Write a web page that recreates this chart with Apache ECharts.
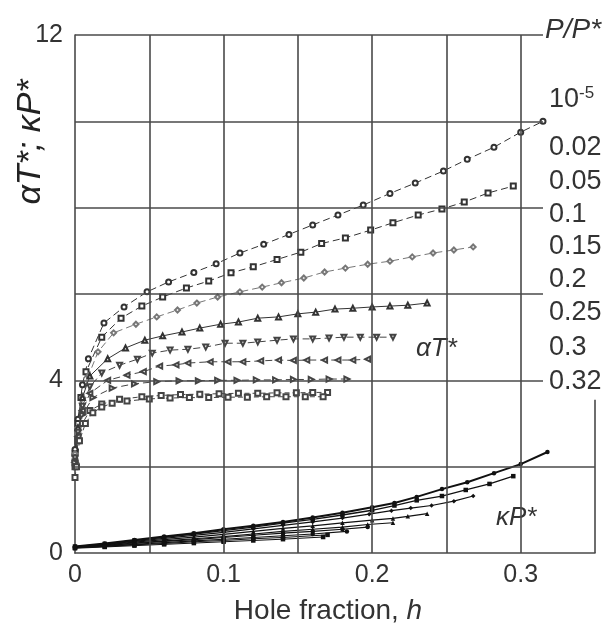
<!DOCTYPE html>
<html><head><meta charset="utf-8">
<script src="https://cdn.jsdelivr.net/npm/echarts@6/dist/echarts.min.js"></script>
<style>html,body{margin:0;padding:0;background:#fff}#c{width:610px;height:631px}</style>
</head><body><div id="c"></div>
<script>
// ---- data ----
const pLabels = ['10^-5','0.02','0.05','0.1','0.15','0.2','0.25','0.3','0.32'];
const xTickLabels = {0:'0',0.1:'0.1',0.2:'0.2',0.3:'0.3'};
const yTickLabels = [0,4,12];
const vGrid = [0.05,0.1,0.15,0.2,0.25,0.3];
const hGrid = [4,6,8,10,12];

// alpha T* curves
const aT_1e5 = [[0,2.4],[0.002,3.1],[0.005,3.9],[0.009,4.5],[0.0195,5.33],[0.033,5.7],[0.0485,6.05],[0.063,6.28],[0.080,6.5],[0.095,6.7],[0.111,6.95],[0.127,7.15],[0.144,7.38],[0.16,7.6],[0.177,7.83],[0.194,8.06],[0.212,8.33],[0.229,8.57],[0.248,8.85],[0.264,9.12],[0.282,9.4],[0.300,9.75],[0.315,10.0]];
const aT_002 = [[0,2.3],[0.002,3.0],[0.004,3.6],[0.0074,4.2],[0.018,5.0],[0.031,5.44],[0.045,5.72],[0.059,5.93],[0.075,6.14],[0.090,6.3],[0.105,6.49],[0.120,6.63],[0.136,6.8],[0.152,6.97],[0.166,7.17],[0.182,7.3],[0.199,7.48],[0.214,7.65],[0.231,7.83],[0.247,7.97],[0.262,8.13],[0.278,8.34],[0.295,8.5]];
const aT_005 = [[0,2.3],[0.002,2.9],[0.005,3.6],[0.009,4.1],[0.0155,4.66],[0.026,5.1],[0.041,5.3],[0.055,5.47],[0.069,5.63],[0.082,5.79],[0.096,5.93],[0.111,6.05],[0.126,6.16],[0.139,6.26],[0.154,6.37],[0.168,6.51],[0.182,6.6],[0.197,6.69],[0.212,6.76],[0.227,6.86],[0.241,6.95],[0.255,7.02],[0.268,7.09]];
const aT_01 = [[0,2.2],[0.002,2.9],[0.005,3.6],[0.01,4.1],[0.022,4.5],[0.034,4.75],[0.047,4.93],[0.059,5.03],[0.072,5.12],[0.084,5.21],[0.098,5.3],[0.110,5.35],[0.123,5.44],[0.137,5.47],[0.150,5.54],[0.162,5.58],[0.175,5.65],[0.187,5.67],[0.2,5.7],[0.212,5.72],[0.224,5.74],[0.237,5.79]];
const aT_015 = [[0,2.2],[0.002,2.8],[0.005,3.4],[0.01,3.85],[0.018,4.17],[0.030,4.35],[0.042,4.49],[0.052,4.63],[0.064,4.7],[0.076,4.72],[0.088,4.77],[0.101,4.86],[0.113,4.86],[0.123,4.89],[0.136,4.93],[0.147,4.96],[0.160,4.96],[0.171,4.98],[0.181,5.0],[0.192,5.0],[0.203,5.0],[0.214,5.0]];
const aT_02 = [[0,2.1],[0.002,2.7],[0.005,3.3],[0.01,3.7],[0.022,4.0],[0.035,4.12],[0.046,4.2],[0.057,4.33],[0.068,4.36],[0.076,4.4],[0.091,4.43],[0.103,4.43],[0.113,4.43],[0.125,4.45],[0.137,4.47],[0.147,4.46],[0.156,4.47],[0.168,4.47],[0.177,4.47],[0.187,4.47],[0.197,4.49]];
const aT_025 = [[0,2.1],[0.002,2.6],[0.005,3.2],[0.012,3.6],[0.025,3.82],[0.04,3.92],[0.055,3.97],[0.07,3.99],[0.083,3.99],[0.096,4.0],[0.109,4.0],[0.122,4.01],[0.135,4.01],[0.147,4.02],[0.159,4.02],[0.171,4.03],[0.183,4.03]];
const aT_03 = [[0,2.0],[0.002,2.6],[0.005,3.0],[0.01,3.3],[0.018,3.45],[0.03,3.56],[0.045,3.62],[0.058,3.65],[0.071,3.67],[0.084,3.68],[0.097,3.69],[0.110,3.7],[0.123,3.7],[0.136,3.71],[0.149,3.71],[0.160,3.72],[0.170,3.72]];
const aT_032 = [[0,1.75],[0.001,2.0],[0.003,2.6],[0.007,3.0],[0.012,3.25],[0.018,3.38],[0.025,3.47],[0.035,3.52],[0.050,3.57],[0.064,3.59],[0.077,3.6],[0.090,3.6],[0.103,3.61],[0.116,3.61],[0.129,3.62],[0.142,3.62],[0.155,3.62],[0.167,3.62]];

// kappa P* curves
const kP_1e5 = [[0,0.15],[0.02,0.22],[0.04,0.3],[0.06,0.38],[0.08,0.46],[0.1,0.55],[0.12,0.63],[0.14,0.72],[0.16,0.82],[0.18,0.93],[0.2,1.06],[0.215,1.16],[0.23,1.3],[0.247,1.48],[0.264,1.64],[0.282,1.85],[0.3,2.06],[0.318,2.34]];
const kP_002 = [[0,0.15],[0.02,0.21],[0.04,0.29],[0.06,0.36],[0.08,0.44],[0.1,0.52],[0.12,0.6],[0.14,0.69],[0.16,0.78],[0.18,0.88],[0.2,0.99],[0.215,1.1],[0.23,1.22],[0.247,1.32],[0.263,1.46],[0.279,1.6],[0.295,1.78]];
const kP_005 = [[0,0.14],[0.02,0.2],[0.04,0.27],[0.06,0.34],[0.08,0.41],[0.1,0.48],[0.12,0.56],[0.14,0.64],[0.16,0.72],[0.18,0.81],[0.198,0.9],[0.213,0.98],[0.226,1.04],[0.24,1.1],[0.255,1.2],[0.268,1.32]];
const kP_01 = [[0,0.14],[0.02,0.19],[0.04,0.25],[0.06,0.31],[0.08,0.37],[0.1,0.43],[0.12,0.5],[0.14,0.57],[0.16,0.63],[0.18,0.7],[0.2,0.76],[0.214,0.8],[0.224,0.85],[0.237,0.91]];
const kP_015 = [[0,0.13],[0.02,0.18],[0.04,0.23],[0.06,0.28],[0.08,0.33],[0.1,0.38],[0.12,0.44],[0.14,0.5],[0.16,0.55],[0.18,0.6],[0.197,0.66],[0.214,0.7]];
const kP_02 = [[0,0.13],[0.02,0.17],[0.04,0.22],[0.06,0.27],[0.08,0.31],[0.1,0.36],[0.12,0.41],[0.14,0.46],[0.16,0.5],[0.18,0.55],[0.197,0.6]];
const kP_025 = [[0,0.12],[0.02,0.16],[0.04,0.2],[0.06,0.24],[0.08,0.28],[0.1,0.32],[0.12,0.36],[0.14,0.4],[0.16,0.44],[0.183,0.5]];
const kP_03 = [[0,0.12],[0.02,0.15],[0.04,0.19],[0.06,0.22],[0.08,0.26],[0.1,0.29],[0.12,0.33],[0.14,0.36],[0.17,0.42]];
const kP_032 = [[0,0.11],[0.02,0.14],[0.04,0.17],[0.06,0.2],[0.08,0.23],[0.1,0.26],[0.12,0.29],[0.14,0.32],[0.167,0.37]];

// ---- build ----
const FONT = 'Liberation Sans, Arial, sans-serif';
const INK = '#333';
const GRID = '#4a4a4a';

const aTList = [
  {d:aT_1e5, sym:'emptyCircle', dash:[7,4], col:'#333'},
  {d:aT_002, sym:'emptyRect', dash:[7,4], col:'#333'},
  {d:aT_005, sym:'emptyDiamond', dash:[7,4], col:'#777'},
  {d:aT_01, sym:'emptyTriangle', dash:'solid', col:'#333'},
  {d:aT_015, sym:'emptyTriangle', rot:180, dash:[7,4], col:'#444'},
  {d:aT_02, sym:'emptyTriangle', rot:90, dash:[7,4], col:'#444'},
  {d:aT_025, sym:'emptyTriangle', rot:-90, dash:[7,4], col:'#444'},
  {d:aT_03, sym:'emptyRect', dash:[5,3], col:'#444'},
  {d:aT_032, sym:'emptyRect', dash:[5,3], col:'#444'}
];
const kPList = [
  {d:kP_1e5, sym:'circle', w:2},
  {d:kP_002, sym:'rect', w:1.3},
  {d:kP_005, sym:'diamond', w:1.2},
  {d:kP_01, sym:'triangle', w:1.2},
  {d:kP_015, sym:'triangle', w:1.1},
  {d:kP_02, sym:'circle', w:1.1},
  {d:kP_025, sym:'circle', w:1.1},
  {d:kP_03, sym:'rect', w:1},
  {d:kP_032, sym:'rect', w:1}
];

const series = [];
const gridLines = [];
vGrid.forEach(v => gridLines.push([{coord:[v,0]},{coord:[v,12]}]));
hGrid.forEach(v => gridLines.push([{coord:[0,v]},{coord:[0.315,v]}]));
gridLines.push([{coord:[0,2]},{coord:[0.35,2]}]);
gridLines.push([{coord:[0.35,0]},{coord:[0.35,3.55]}]);
series.push({
  type:'line', data:[], z:1, silent:true,
  markLine:{silent:true, symbol:['none','none'], label:{show:false},
    lineStyle:{color:GRID, width:1.6, type:'solid'}, data:gridLines, animation:false}
});

aTList.forEach((s,i) => {
  series.push({
    type:'line', name:'aT'+pLabels[i], data:s.d, z:3,
    symbol:s.sym, symbolSize:5, symbolRotate:s.rot||0, showAllSymbol:true,
    lineStyle:{color:s.col, width:1, type:s.dash},
    itemStyle:{color:s.col, borderColor:s.col, borderWidth:1},
    animation:false
  });
});
kPList.forEach((s,i) => {
  series.push({
    type:'line', name:'kP'+pLabels[i], data:s.d, z:3,
    symbol:s.sym, symbolSize:4.5, showAllSymbol:true,
    lineStyle:{color:'#111', width:s.w},
    itemStyle:{color:'#111'},
    animation:false
  });
});

const rightY = [100,148,182,215,247,280,313,348,382];
const graphic = [];
pLabels.forEach((t,i) => {
  let text = t, rich = {};
  if (t.indexOf('^') >= 0) {
    const [b,e] = t.split('^');
    text = '{b|'+b+'}{e|'+e+'}';
    rich = {b:{fontSize:27, fontFamily:FONT, color:INK}, e:{fontSize:17, fontFamily:FONT, color:INK, verticalAlign:'top', padding:[0,0,14,0]}};
  }
  graphic.push({type:'text', x:549, y:rightY[i], style:{text, rich, font:'27px '+FONT, fill:INK, align:'left', verticalAlign:'middle'}});
});
graphic.push({type:'text', x:545, y:30, style:{text:'P/P*', font:'italic 28px '+FONT, fill:INK, align:'left', verticalAlign:'middle'}});
graphic.push({type:'text', x:416, y:349, style:{text:'\u03b1T*', font:'italic 26px '+FONT, fill:INK, align:'left', verticalAlign:'middle'}});
graphic.push({type:'text', x:496, y:518, style:{text:'\u03baP*', font:'italic 26px '+FONT, fill:INK, align:'left', verticalAlign:'middle'}});
graphic.push({type:'text', x:328, y:611, style:{text:'{n|Hole fraction, }{h|h}', rich:{n:{fontSize:28, fontFamily:FONT, color:INK}, h:{fontSize:28, fontFamily:FONT, fontStyle:'italic', color:INK}}, font:'28px '+FONT, fill:INK, align:'center', verticalAlign:'middle'}});
graphic.push({type:'text', x:31, y:142, rotation:Math.PI/2, style:{text:'\u03b1T*; \u03baP*', font:'italic 34px '+FONT, fill:'#222', align:'center', verticalAlign:'middle'}});

const chart = echarts.init(document.getElementById('c'), null, {renderer:'canvas'});
chart.setOption({
  backgroundColor:'#fff',
  animation:false,
  grid:{left:75, right:15, top:35, bottom:78},
  xAxis:{type:'value', min:0, max:0.35, interval:0.1,
    axisLine:{show:true, lineStyle:{color:GRID, width:1.6}},
    axisTick:{show:false}, splitLine:{show:false},
    axisLabel:{fontSize:25, fontFamily:FONT, color:INK, margin:10,
      formatter:v => { const k = Math.round(v*10)/10; return (Math.abs(v-k)<1e-9 && xTickLabels[k]!==undefined) ? xTickLabels[k] : ''; }}},
  yAxis:{type:'value', min:0, max:12, interval:2,
    axisLine:{show:true, lineStyle:{color:GRID, width:1.6}},
    axisTick:{show:false}, splitLine:{show:false},
    axisLabel:{fontSize:25, fontFamily:FONT, color:INK, margin:12,
      formatter:v => yTickLabels.indexOf(v)>=0 ? String(v) : ''}},
  graphic:graphic,
  series:series
});
</script>
</body></html>
